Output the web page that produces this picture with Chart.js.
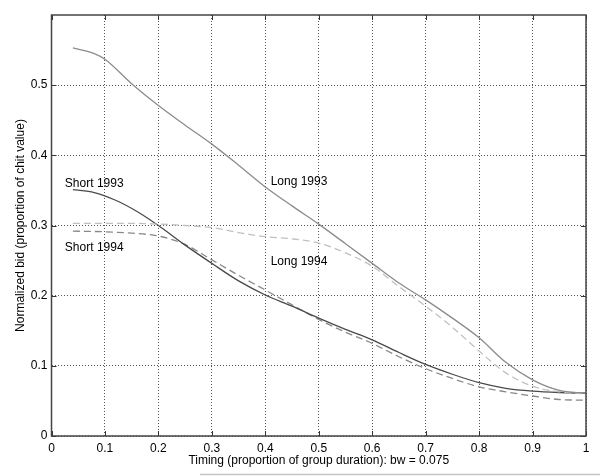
<!DOCTYPE html>
<html>
<head>
<meta charset="utf-8">
<script src="https://cdn.jsdelivr.net/npm/chart.js@4/dist/chart.umd.min.js"></script>
<style>
html,body{margin:0;padding:0;background:#fff;}
#wrap{width:600px;height:476px;position:relative;}
</style>
</head>
<body>
<div id="wrap"><canvas id="c" width="600" height="476"></canvas></div>
<script>
// ---- data ----
const xTicks = [0, 0.1, 0.2, 0.3, 0.4, 0.5, 0.6, 0.7, 0.8, 0.9, 1];
const yTicks = [0, 0.1, 0.2, 0.3, 0.4, 0.5];

const long1993X = [0.04, 0.08, 0.1, 0.15, 0.2, 0.25, 0.3, 0.35, 0.4, 0.45, 0.5, 0.55, 0.6, 0.65, 0.7, 0.75, 0.8, 0.85, 0.9, 0.95, 1.0];
const long1993Y = [0.553, 0.545, 0.537, 0.502, 0.471, 0.443, 0.416, 0.386, 0.355, 0.328, 0.302, 0.274, 0.246, 0.218, 0.194, 0.168, 0.140, 0.105, 0.080, 0.065, 0.061];

const long1994X = [0.04, 0.1, 0.15, 0.2, 0.25, 0.3, 0.35, 0.4, 0.45, 0.5, 0.55, 0.6, 0.65, 0.7, 0.75, 0.8, 0.85, 0.9, 0.95, 1.0];
const long1994Y = [0.303, 0.303, 0.303, 0.302, 0.300, 0.297, 0.290, 0.284, 0.281, 0.275, 0.261, 0.242, 0.213, 0.185, 0.155, 0.121, 0.090, 0.071, 0.063, 0.060];

const short1993X = [0.04, 0.08, 0.12, 0.16, 0.2, 0.25, 0.3, 0.35, 0.4, 0.45, 0.5, 0.55, 0.6, 0.65, 0.7, 0.75, 0.8, 0.85, 0.9, 0.95, 1.0];
const short1993Y = [0.351, 0.347, 0.336, 0.320, 0.300, 0.272, 0.246, 0.221, 0.201, 0.185, 0.168, 0.152, 0.137, 0.119, 0.102, 0.088, 0.076, 0.068, 0.064, 0.062, 0.061];

const short1994X = [0.04, 0.1, 0.15, 0.2, 0.25, 0.3, 0.35, 0.4, 0.45, 0.5, 0.55, 0.6, 0.65, 0.7, 0.75, 0.8, 0.85, 0.9, 0.95, 1.0];
const short1994Y = [0.292, 0.291, 0.289, 0.285, 0.273, 0.251, 0.229, 0.208, 0.187, 0.166, 0.148, 0.132, 0.113, 0.096, 0.082, 0.070, 0.063, 0.057, 0.052, 0.051];

const seriesNames = ['Long 1993', 'Long 1994', 'Short 1993', 'Short 1994'];
// text labels placed in data space (x, y of left/middle of the text)
const labelTexts = ['Short 1993', 'Short 1994', 'Long 1993', 'Long 1994'];
const labelXs = [0.025, 0.025, 0.41, 0.41];
const labelYs = [0.359, 0.269, 0.363, 0.249];

const xTitle = 'Timing (proportion of group duration): bw = 0.075';
const yTitle = 'Normalized bid (proportion of chit value)';

function pts(xs, ys){ return xs.map((x,i)=>({x:x, y:ys[i]})); }

const FONT = '"Liberation Sans", Arial, Helvetica, sans-serif';

const framePlugin = {
  id: 'frame',
  afterDraw(chart){
    const {ctx, chartArea:a, scales} = chart;
    ctx.save();
    // inward tick marks on all four sides
    ctx.strokeStyle = '#333';
    ctx.lineWidth = 1;
    const tl = 5;
    ctx.beginPath();
    xTicks.forEach(v=>{
      const px = Math.round(scales.x.getPixelForValue(v)) + 0.5;
      ctx.moveTo(px, a.bottom); ctx.lineTo(px, a.bottom - tl);
      ctx.moveTo(px, a.top); ctx.lineTo(px, a.top + tl);
    });
    yTicks.forEach(v=>{
      const py = Math.round(scales.y.getPixelForValue(v)) + 0.5;
      ctx.moveTo(a.left, py); ctx.lineTo(a.left + tl, py);
      ctx.moveTo(a.right, py); ctx.lineTo(a.right - tl, py);
    });
    ctx.stroke();
    // box
    ctx.strokeStyle = '#444';
    ctx.lineWidth = 1.5;
    ctx.strokeRect(a.left, a.top, a.right - a.left, a.bottom - a.top);
    // text labels
    ctx.fillStyle = '#000';
    ctx.font = '12px ' + FONT;
    ctx.textAlign = 'left';
    ctx.textBaseline = 'middle';
    labelTexts.forEach((t,i)=>{
      ctx.fillText(t, scales.x.getPixelForValue(labelXs[i]), scales.y.getPixelForValue(labelYs[i]));
    });
    // faint rule along the bottom edge of the scan
    ctx.strokeStyle = '#c4c4c4';
    ctx.lineWidth = 1.5;
    ctx.beginPath();
    ctx.moveTo(200, 474.5); ctx.lineTo(600, 474.5);
    ctx.stroke();
    ctx.restore();
  }
};

new Chart(document.getElementById('c'), {
  type: 'line',
  data: {
    datasets: [
      { label: seriesNames[0], data: pts(long1993X, long1993Y), borderColor: '#8c8c8c', borderWidth: 1.3 },
      { label: seriesNames[1], data: pts(long1994X, long1994Y), borderColor: '#c0c0c0', borderWidth: 1.3, borderDash: [7,4] },
      { label: seriesNames[2], data: pts(short1993X, short1993Y), borderColor: '#4a4a4a', borderWidth: 1.3 },
      { label: seriesNames[3], data: pts(short1994X, short1994Y), borderColor: '#888888', borderWidth: 1.3, borderDash: [7,4] }
    ]
  },
  options: {
    responsive: false,
    animation: false,
    devicePixelRatio: 1,
    layout: { padding: { left: 0, right: 14, top: 15, bottom: 0 } },
    elements: {
      point: { radius: 0 },
      line: { cubicInterpolationMode: 'monotone', fill: false }
    },
    plugins: { legend: { display: false }, tooltip: { enabled: false } },
    scales: {
      x: {
        type: 'linear', min: 0, max: 1,
        afterBuildTicks(s){ s.ticks = xTicks.map(v=>({value:v})); },
        afterFit(s){ s.height = 40; },
        grid: { color: '#555', lineWidth: 1, drawTicks: false },
        border: { display: false, dash: [1,2] },
        ticks: {
          padding: 5, color: '#000', font: { family: FONT, size: 12 },
          maxRotation: 0, autoSkip: false,
          callback: v => String(v)
        },
        title: { display: true, text: xTitle, color: '#000', font: { family: FONT, size: 12 }, padding: { top: 0, bottom: 8 } }
      },
      y: {
        type: 'linear', min: 0, max: 0.6,
        afterBuildTicks(s){ s.ticks = yTicks.map(v=>({value:v})); },
        afterFit(s){ s.width = 51.5; },
        grid: { color: '#555', lineWidth: 1, drawTicks: false },
        border: { display: false, dash: [1,2] },
        ticks: {
          padding: 4, color: '#000', font: { family: FONT, size: 12 },
          autoSkip: false,
          callback: v => String(v)
        },
        title: { display: true, text: yTitle, color: '#000', font: { family: FONT, size: 12 }, padding: { top: 13, bottom: 0 } }
      }
    }
  },
  plugins: [framePlugin]
});
</script>
</body>
</html>
